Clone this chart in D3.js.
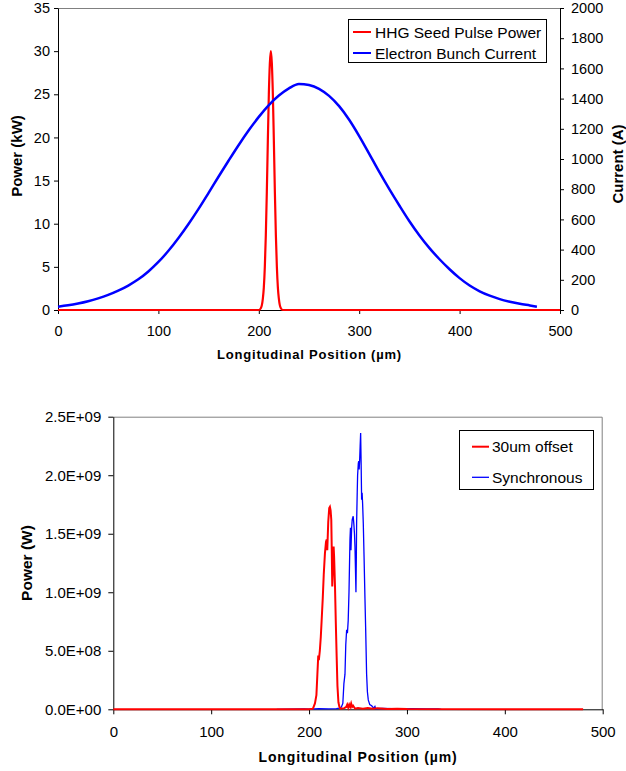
<!DOCTYPE html>
<html>
<head>
<meta charset="utf-8">
<script src="https://cdn.jsdelivr.net/npm/d3@7"></script>
<style>
  html, body { margin: 0; padding: 0; background: #fff; }
  svg { display: block; font-family: "Liberation Sans", Arial, sans-serif; }
  .tick text { fill: #000; }
  .axis-title { font-weight: bold; fill: #000; }
  .legend-text { fill: #000; }
</style>
</head>
<body>
<div id="chart"></div>
<script>
// ---- top panel: seed pulse and bunch current ----
const currentPos = [0, 10, 20, 30, 40, 50, 60, 70, 80, 90, 100, 110, 120, 130, 140, 150, 160, 170, 180, 190, 200, 210, 220, 230, 240, 250, 260, 270, 280, 290, 300, 310, 320, 330, 340, 350, 360, 370, 380, 390, 400, 410, 420, 430, 440, 450, 460, 470, 477];
const currentAmps = [22, 31, 43, 58, 77, 100, 128, 162, 203, 255, 318, 392, 477, 570, 670, 776, 884, 990, 1093, 1190, 1279, 1357, 1420, 1468, 1497, 1490, 1465, 1418, 1350, 1260, 1152, 1034, 914, 800, 692, 588, 494, 410, 336, 270, 211, 162, 124, 95, 72, 55, 41, 30, 22];

const seedPos = [0, 200, 202, 204, 205, 206, 207, 208, 209, 210, 211, 212, 213, 214, 215, 216, 217, 218, 219, 220, 222, 224, 500];
const seedKw = [0, 0, 0.2, 1.3, 2.6, 5, 8.7, 13.7, 19.6, 25, 28.6, 30, 28.6, 25, 19.6, 13.7, 8.7, 5, 2.6, 1.3, 0.2, 0, 0];

const topXTicks = [0, 100, 200, 300, 400, 500];
const topPowerTicks = [0, 5, 10, 15, 20, 25, 30, 35];
const topCurrentTicks = [0, 200, 400, 600, 800, 1000, 1200, 1400, 1600, 1800, 2000];
const topLegend = ["HHG Seed Pulse Power", "Electron Bunch Current"];

// ---- bottom panel: output power (W) ----
const offsetPos = [0, 200, 204, 206, 207.5, 208.5, 209.4, 210, 211, 212, 212.8, 214, 215, 216.2, 217.3, 218, 218.6, 219.6, 220.6, 221.3, 222, 222.7, 223.2, 223.7, 224.3, 225.1, 225.6, 226.5, 227.3, 228.2, 229, 230, 231, 232, 236, 238, 239, 240, 241, 242, 243, 244, 245, 247, 250, 255, 260, 265, 270, 280, 290, 300, 480];
const offsetW = [0, 0, 0.005e9, 0.05e9, 0.12e9, 0.3e9, 0.46e9, 0.42e9, 0.5e9, 0.62e9, 0.75e9, 0.95e9, 1.15e9, 1.33e9, 1.43e9, 1.45e9, 1.36e9, 1.6e9, 1.72e9, 1.73e9, 1.7e9, 1.62e9, 1.36e9, 1.05e9, 1.2e9, 1.39e9, 1.3e9, 1.05e9, 0.75e9, 0.45e9, 0.2e9, 0.06e9, 0.02e9, 0.005e9, 0.01e9, 0.02e9, 0.04e9, 0.015e9, 0.04e9, 0.02e9, 0.05e9, 0.02e9, 0.03e9, 0.005e9, 0.01e9, 0.005e9, 0.01e9, 0.005e9, 0.01e9, 0.003e9, 0.005e9, 0.002e9, 0];

const syncPos = [167, 195, 200, 210, 220, 228, 231, 233, 234.5, 235.6, 236.7, 237.5, 238.4, 239.2, 240, 240.8, 241.8, 242.3, 242.8, 243.5, 244.1, 245.1, 245.8, 246.4, 246.9, 247.4, 247.9, 248.3, 248.6, 249.2, 249.6, 250.3, 250.7, 251.2, 251.7, 252.2, 252.7, 253.2, 253.7, 254.2, 254.7, 255.4, 256.2, 257.1, 257.8, 258.8, 259.6, 260.5, 262, 264, 266, 267.3, 268, 275, 285, 295, 305, 320, 332, 335];
const syncW = [0, 0.004e9, 0.002e9, 0.006e9, 0.003e9, 0.005e9, 0.01e9, 0.02e9, 0.05e9, 0.22e9, 0.3e9, 0.55e9, 0.68e9, 0.65e9, 0.76e9, 1.0e9, 1.45e9, 1.55e9, 1.36e9, 1.55e9, 1.62e9, 1.65e9, 1.58e9, 1.5e9, 1.39e9, 1.2e9, 1.0e9, 1.3e9, 1.6e9, 1.85e9, 2.0e9, 2.1e9, 2.12e9, 2.05e9, 2.13e9, 2.25e9, 2.36e9, 2.1e9, 1.79e9, 1.85e9, 1.76e9, 1.59e9, 1.3e9, 0.95e9, 0.7e9, 0.3e9, 0.15e9, 0.08e9, 0.04e9, 0.03e9, 0.01e9, 0.025e9, 0.005e9, 0.008e9, 0.006e9, 0.003e9, 0.005e9, 0.004e9, 0.003e9, 0];

const bottomXTicks = [0, 100, 200, 300, 400, 500];
const bottomYTicks = [0, 0.5e9, 1.0e9, 1.5e9, 2.0e9, 2.5e9];
const bottomLegend = ["30um offset", "Synchronous"];

const xTitle = "Longitudinal Position (\u00b5m)";

const sciFormat = (d) => {
  if (d === 0) return "0.0E+00";
  const e = Math.floor(Math.log10(d));
  const m = d / Math.pow(10, e);
  return `${m.toFixed(1)}E+${String(e).padStart(2, "0")}`;
};

const width = 626;
const height = 771;

const svg = d3
  .select("#chart")
  .append("svg")
  .attr("width", width)
  .attr("height", height)
  .attr("viewBox", [0, 0, width, height]);

svg.append("rect").attr("width", width).attr("height", height).attr("fill", "#fff");

// ================= top chart =================
{
  const left = 58, right = 560, top = 8, bottom = 310;
  const x = d3.scaleLinear().domain([0, 500]).range([left, right]);
  const yP = d3.scaleLinear().domain([0, 35]).range([bottom, top]);
  const yC = d3.scaleLinear().domain([0, 2000]).range([bottom, top]);

  const g = svg.append("g").attr("class", "top-chart");

  // frame top line (grey)
  g.append("line")
    .attr("x1", left).attr("x2", right)
    .attr("y1", top + 0.5).attr("y2", top + 0.5)
    .attr("stroke", "#808080");

  g.append("g")
    .attr("transform", `translate(0,${bottom})`)
    .call(d3.axisBottom(x).tickValues(topXTicks).tickSize(4).tickPadding(12).tickSizeOuter(0))
    .call((a) => a.selectAll("text").attr("font-size", 14.5))
    .call((a) => a.selectAll("line, path").attr("stroke", "#000"));

  g.append("g")
    .attr("transform", `translate(${left},0)`)
    .call(d3.axisLeft(yP).tickValues(topPowerTicks).tickSize(4).tickPadding(4).tickSizeOuter(0))
    .call((a) => a.selectAll("text").attr("font-size", 14.5))
    .call((a) => a.selectAll("line, path").attr("stroke", "#000"));

  g.append("g")
    .attr("transform", `translate(${right},0)`)
    .call(d3.axisRight(yC).tickValues(topCurrentTicks).tickFormat(d3.format("d")).tickSize(4).tickPadding(7).tickSizeOuter(0))
    .call((a) => a.selectAll("text").attr("font-size", 14.5))
    .call((a) => a.selectAll("line, path").attr("stroke", "#000"));

  const currentLine = d3.line()
    .x((d, i) => x(currentPos[i]))
    .y((d) => yC(d))
    .curve(d3.curveMonotoneX);

  const seedLine = d3.line()
    .x((d, i) => x(seedPos[i]))
    .y((d) => yP(d))
    .curve(d3.curveMonotoneX);

  g.append("path")
    .attr("d", seedLine(seedKw))
    .attr("fill", "none")
    .attr("stroke", "#ff0000")
    .attr("stroke-width", 2.2);

  g.append("path")
    .attr("d", currentLine(currentAmps))
    .attr("fill", "none")
    .attr("stroke", "#0000ff")
    .attr("stroke-width", 2.5);

  g.append("text")
    .attr("class", "axis-title")
    .attr("text-anchor", "middle")
    .attr("font-size", 13)
    .attr("letter-spacing", 0.8)
    .attr("x", 309.5)
    .attr("y", 359)
    .text(xTitle);

  g.append("text")
    .attr("class", "axis-title")
    .attr("text-anchor", "middle")
    .attr("font-size", 15)
    .attr("transform", `translate(22,156)rotate(-90)`)
    .text("Power (kW)");

  g.append("text")
    .attr("class", "axis-title")
    .attr("text-anchor", "middle")
    .attr("font-size", 15)
    .attr("transform", `translate(623,164)rotate(-90)`)
    .text("Current (A)");

  // legend
  const lg = g.append("g").attr("class", "legend");
  lg.append("rect")
    .attr("x", 348.5).attr("y", 19.5)
    .attr("width", 198).attr("height", 43)
    .attr("fill", "#fff").attr("stroke", "#000");
  const colors = ["#ff0000", "#0000ff"];
  topLegend.forEach((name, i) => {
    const ly = 32 + i * 21;
    lg.append("line")
      .attr("x1", 353).attr("x2", 371)
      .attr("y1", ly).attr("y2", ly)
      .attr("stroke", colors[i]).attr("stroke-width", 2);
    lg.append("text")
      .attr("class", "legend-text")
      .attr("x", 375).attr("y", ly)
      .attr("dy", "0.36em")
      .attr("font-size", 15.5)
      .text(name);
  });
}

// ================= bottom chart =================
{
  const left = 113.3, right = 602.7, top = 416.7, bottom = 709.3;
  const x = d3.scaleLinear().domain([0, 500]).range([left, right]);
  const y = d3.scaleLinear().domain([0, 2.5e9]).range([bottom, top]);

  const g = svg.append("g").attr("class", "bottom-chart");

  g.append("path")
    .attr("d", `M${left},${top + 0.5}H${right - 0.5}V${bottom}`)
    .attr("fill", "none")
    .attr("stroke", "#808080");

  g.append("g")
    .attr("transform", `translate(0,${bottom})`)
    .call(d3.axisBottom(x).tickValues(bottomXTicks).tickSize(5).tickPadding(12).tickSizeOuter(0))
    .call((a) => a.selectAll("text").attr("font-size", 15))
    .call((a) => a.selectAll("line, path").attr("stroke", "#000"));

  g.append("g")
    .attr("transform", `translate(${left},0)`)
    .call(d3.axisLeft(y).tickValues(bottomYTicks).tickFormat(sciFormat).tickSize(5).tickPadding(7).tickSizeOuter(0))
    .call((a) => a.selectAll("text").attr("font-size", 15))
    .call((a) => a.selectAll("line, path").attr("stroke", "#000"));

  const line = (xs) => d3.line()
    .x((d, i) => x(xs[i]))
    .y((d) => y(d));

  g.append("path")
    .attr("d", line(syncPos)(syncW))
    .attr("fill", "none")
    .attr("stroke", "#0000ff")
    .attr("stroke-width", 1.3);

  g.append("path")
    .attr("d", line(offsetPos)(offsetW))
    .attr("fill", "none")
    .attr("stroke", "#ff0000")
    .attr("stroke-width", 2);

  g.append("text")
    .attr("class", "axis-title")
    .attr("text-anchor", "middle")
    .attr("font-size", 14)
    .attr("letter-spacing", 0.85)
    .attr("x", 358)
    .attr("y", 762)
    .text(xTitle);

  g.append("text")
    .attr("class", "axis-title")
    .attr("text-anchor", "middle")
    .attr("font-size", 15.5)
    .attr("transform", `translate(32,563)rotate(-90)`)
    .text("Power (W)");

  const lg = g.append("g").attr("class", "legend");
  lg.append("rect")
    .attr("x", 459.5).attr("y", 430.5)
    .attr("width", 134).attr("height", 59)
    .attr("fill", "#fff").attr("stroke", "#000");
  const colors = ["#ff0000", "#0000ff"];
  const widths = [2, 1.3];
  bottomLegend.forEach((name, i) => {
    const ly = 446.7 + i * 30.6;
    lg.append("line")
      .attr("x1", 472).attr("x2", 489)
      .attr("y1", ly).attr("y2", ly)
      .attr("stroke", colors[i]).attr("stroke-width", widths[i]);
    lg.append("text")
      .attr("class", "legend-text")
      .attr("x", 492).attr("y", ly)
      .attr("dy", "0.36em")
      .attr("font-size", 15.5)
      .text(name);
  });
}
</script>
</body>
</html>
